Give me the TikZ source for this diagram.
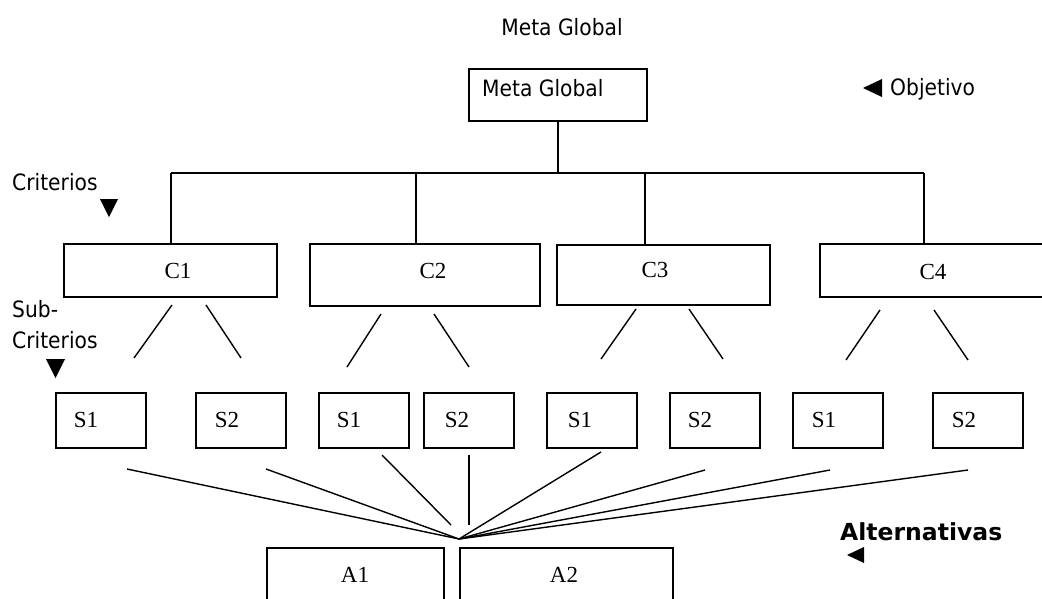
\documentclass[tikz,border=0pt]{standalone}
\usepackage{fontspec}
\setmainfont{Liberation Serif}
\newfontfamily\tah[FakeStretch=0.9]{DejaVu Sans}
\newfontfamily\plainsans{DejaVu Sans}
\tikzset{
  box/.style={draw, line width=1.5pt, rectangle, inner sep=0pt, outer sep=0pt},
  sanslbl/.style={inner sep=0pt, anchor=west, font=\tah\fontsize{22.5}{26}\selectfont},
  serlbl/.style={inner sep=0pt, font=\fontsize{23}{27}\selectfont},
  wire/.style={line width=1.4pt},
  tri/.style={fill=black},
}
\begin{document}
\begin{tikzpicture}[x=1pt, y=-1pt]
\clip (0,0) rectangle (1042,598);
\fill[white] (0,0) rectangle (1042,598);

% headline
\node[inner sep=0pt, font=\tah\fontsize{22.5}{26}\selectfont] (title) at (562,27) {Meta Global};

% goal
\node[box, minimum width=178pt, minimum height=52pt] (goal) at (558,95) {};
\node[sanslbl] (goalt) at (482,88) {Meta Global};

% objective marker
\node[sanslbl] (obj) at (890,89) {Objetivo};
\fill[tri] (863,88) -- (882,79) -- (882,97) -- cycle;

% criteria
\node[box, minimum width=213pt, minimum height=53pt] (c1) at (170.5,270.5) {};
\node[box, minimum width=230pt, minimum height=62pt] (c2) at (425,275) {};
\node[box, minimum width=213pt, minimum height=60pt] (c3) at (663.5,275) {};
\node[box, minimum width=240pt, minimum height=53pt] (c4) at (940,270.5) {};
\node[serlbl] (c1t) at (178,271) {C1};
\node[serlbl] (c2t) at (433,271) {C2};
\node[serlbl] (c3t) at (655,270) {C3};
\node[serlbl] (c4t) at (933,272) {C4};

% bus from goal to criteria
\coordinate (hub) at (goal.south |- 0,173);
\coordinate (j1) at (171,173);
\coordinate (j2) at (416,173);
\coordinate (j3) at (645,173);
\coordinate (j4) at (924,173);
\draw[wire] (goal.south) -- (hub);
\draw[wire] (j1) -- (j4);
\draw[wire] (j1) -- (j1 |- c1.north);
\draw[wire] (j2) -- (j2 |- c2.north);
\draw[wire] (j3) -- (j3 |- c3.north);
\draw[wire] (j4) -- (j4 |- c4.north);

% side labels
\node[sanslbl] (crit) at (12,182) {Criterios};
\fill[tri] (100,199) -- (118,199) -- (109,217) -- cycle;
\node[sanslbl] (sub1) at (12,309) {Sub-};
\node[sanslbl] (sub2) at (12,340) {Criterios};
\fill[tri] (46,359) -- (65,359) -- (55.5,378) -- cycle;

% sub-criteria
\foreach \n/\cx/\tx/\lab in {s1a/101/86/S1, s2a/241/227/S2, s1b/364/349/S1, s2b/469/457/S2,
                             s1c/592/580/S1, s2c/715/700/S2, s1d/838/824/S1, s2d/978/964/S2} {
  \node[box, minimum width=90pt, minimum height=55pt] (\n) at (\cx,420.5) {};
  \node[serlbl] (\n t) at (\tx,420) {\lab};
}

% short links criteria -> sub-criteria
\foreach \n/\ax/\ay/\bx/\by in {
  l1/172/305/134/358, l2/206/305/241/358,
  l3/381/314/347/367, l4/434/314/469/367,
  l5/636/309/601/359, l6/689/309/723/359,
  l7/880/310/846/360, l8/934/310/968/360} {
  \coordinate (\n a) at (\ax,\ay);
  \coordinate (\n b) at (\bx,\by);
  \draw[wire] (\n a) -- (\n b);
}

% alternatives
\node[box, minimum width=177pt, minimum height=72pt] (a1) at (355.5,584) {};
\node[box, minimum width=213pt, minimum height=72pt] (a2) at (566.5,584) {};
\node[serlbl] (a1t) at (355,575) {A1};
\node[serlbl] (a2t) at (564,575) {A2};

% fan of links into the alternatives
\coordinate (fan) at (459,539);
\foreach \n/\px/\py in {f1/127/469, f2/266/469, f5/601/452, f6/705/470, f7/830/470, f8/968/470} {
  \coordinate (\n) at (\px,\py);
  \draw[wire] (\n) -- (fan);
}
\coordinate (f3a) at (382,455);
\coordinate (f3b) at (451,525);
\draw[wire] (f3a) -- (f3b);
\coordinate (f4a) at (469,455);
\coordinate (f4b) at (469,525);
\draw[wire] (f4a) -- (f4b);

% alternatives marker
\node[inner sep=0pt, anchor=west, font=\plainsans\bfseries\fontsize{23.5}{27}\selectfont] (alt) at (840,532) {Alternativas};
\fill[tri] (847,555) -- (864,547) -- (864,563) -- cycle;
\end{tikzpicture}
\end{document}
